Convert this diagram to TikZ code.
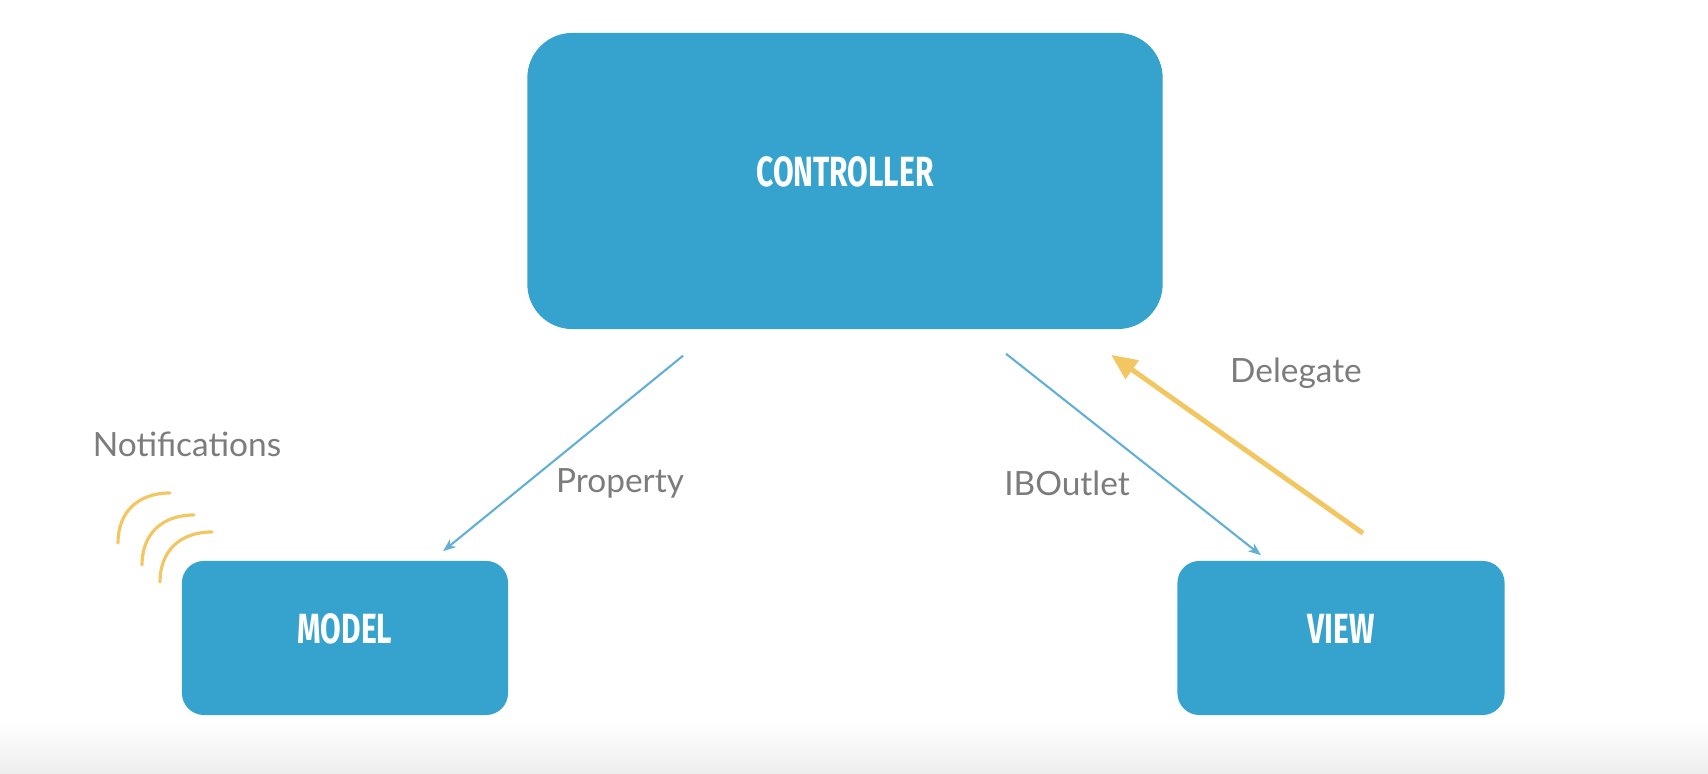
\documentclass[tikz,border=0pt]{standalone}
\usepackage{fontspec}
\setmainfont{Lato}
\newfontfamily\boxfont[FakeStretch=0.71]{Fira Sans}
\usetikzlibrary{positioning, arrows.meta}

\definecolor{boxblue}{HTML}{36A3CF}
\definecolor{lineblue}{HTML}{62B0D6}
\definecolor{notegold}{HTML}{F2C661}
\definecolor{labelgray}{HTML}{7C7C7C}

\begin{document}
\begin{tikzpicture}[
    x=0.01cm, y=-0.01cm,
    box/.style={fill=boxblue, rounded corners=0.22cm, font=\boxfont\bfseries\fontsize{12}{12}\selectfont, text=white},
    tag/.style={font=\fontsize{9.5}{11}\selectfont, text=labelgray},
    arrow/.style={-{Stealth[length=0.13cm, width=0.1cm]}, lineblue, line width=0.6pt},
    goldarrow/.style={-{Triangle[length=0.26cm, width=0.22cm]}, notegold, line width=1.4pt}
]
\useasboundingbox (0,0) rectangle (1708,774);

% Background fade at the bottom
\shade[top color=white, bottom color=black!7] (0,722) rectangle (1708,774);

% Nodes
\node[box, rounded corners=0.45cm, minimum width=6.35cm, minimum height=2.96cm, text depth=0.18cm] (ctrl) at (845,181) {CONTROLLER};

\node[box, minimum width=3.26cm, minimum height=1.54cm, text depth=0.18cm] (model) at (345,638) {MODEL};

\node[box, minimum width=3.27cm, minimum height=1.54cm, text depth=0.18cm] (view) at (1341,638) {VIEW};

\node[tag] (notif) at (187,444) {Notifications};
\node[tag] (prop) at (620,483) {Property};
\node[tag] (outlet) at (1067,483) {IBOutlet};
\node[tag] (deleg) at (1296,373) {Delegate};

% Arrows
\draw[arrow] ([shift={(-162,26)}]ctrl.south) -- ([shift={(98,-9)}]model.north);

\draw[arrow] ([shift={(161,24)}]ctrl.south) -- ([shift={(-80,-5)}]view.north);

\draw[goldarrow] ([shift={(22,-27)}]view.north) -- ([shift={(266,25)}]ctrl.south);

% Notification waves
\foreach \dx/\dy in {0/0, 24/22, 42/39}
  \draw[notegold, line width=0.9pt, line cap=round]
    (118+\dx,543+\dy) .. controls (118+\dx,512+\dy) and (138+\dx,493+\dy) .. (170+\dx,493+\dy);

\end{tikzpicture}
\end{document}
